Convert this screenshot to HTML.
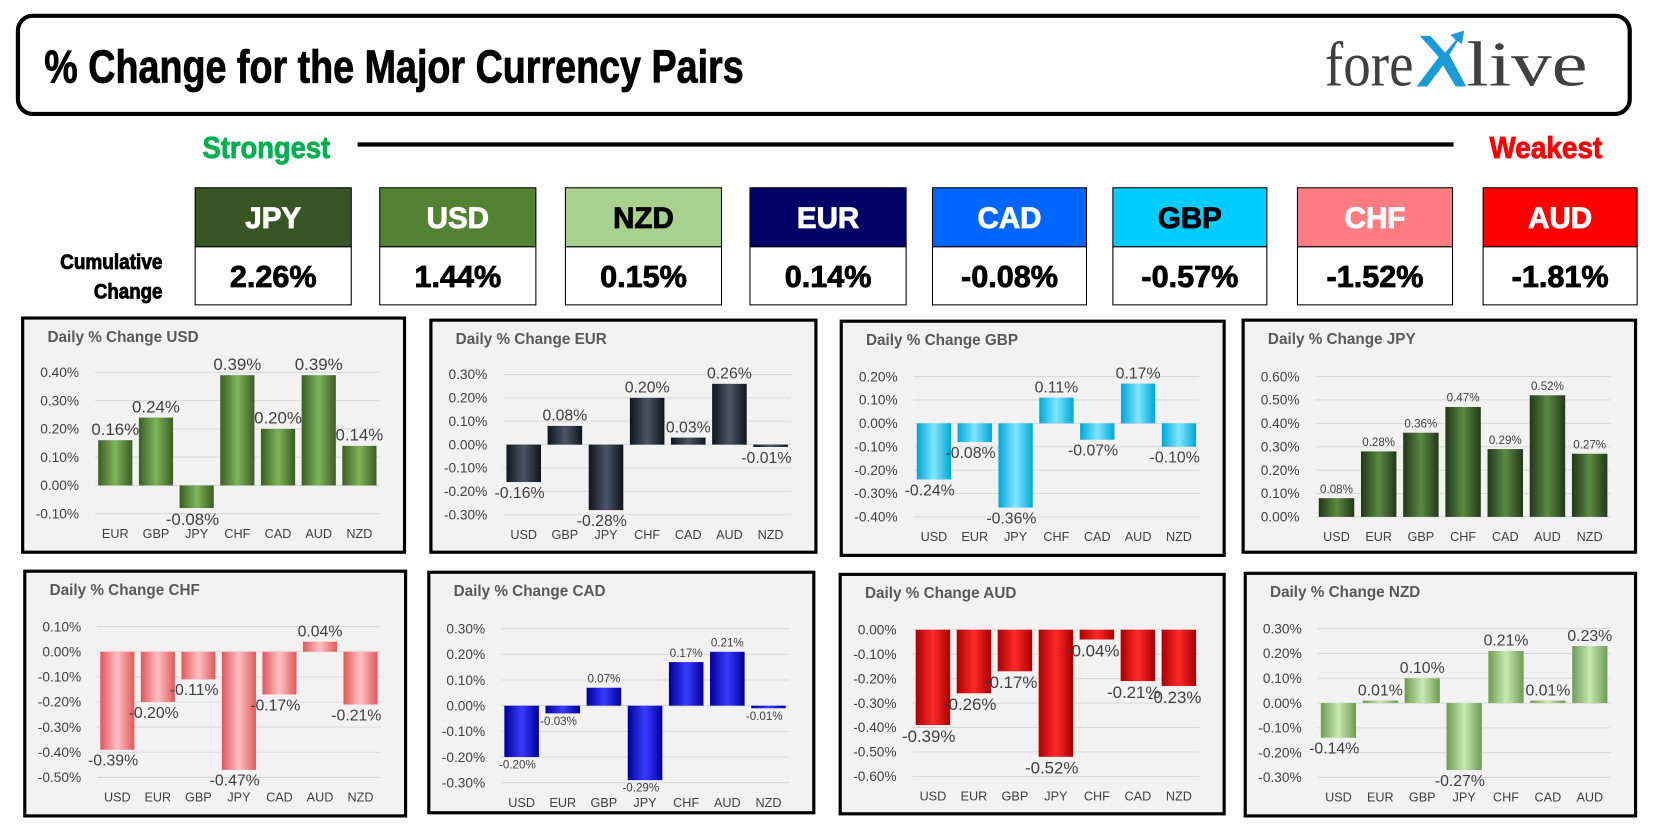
<!DOCTYPE html>
<html><head><meta charset="utf-8">
<style>
html,body{margin:0;padding:0;background:#fff;width:1654px;height:833px;overflow:hidden}
#root{width:1568px;height:790px;transform:scale(1.05485);transform-origin:0 0;position:relative}
svg text{font-family:"Liberation Sans",sans-serif}
svg text.imp{font-family:"Liberation Sans Narrow","Liberation Sans",sans-serif;font-weight:bold;stroke:currentColor;stroke-width:0.8}
svg text.serif{font-family:"Liberation Serif",serif}
</style></head><body>
<div id="root">
<svg id="main" width="1568" height="790" viewBox="0 0 1568 790" xmlns="http://www.w3.org/2000/svg">
<g>
<rect x="17" y="15" width="1528" height="93" rx="14" fill="#fff" stroke="#000" stroke-width="4"/>
<text class="imp" x="42" y="78" font-size="44" textLength="663" lengthAdjust="spacingAndGlyphs" fill="#000" color="#000">% Change for the Major Currency Pairs</text>
<g>
<text class="serif" x="1256" y="81" font-size="60" fill="#404040" textLength="84" lengthAdjust="spacingAndGlyphs">fore</text>
<path d="M1343 82 L1364 54 L1346 34 L1356 34 L1370 50 L1380 38 L1375 33 L1388 29 L1386 42 L1382 39 L1374 52 L1390 82 L1380 82 L1368 62 L1353 82 Z" fill="#1a9ad6"/>
<text class="serif" x="1390" y="81" font-size="60" fill="#404040" textLength="115" lengthAdjust="spacingAndGlyphs">live</text>
</g>
</g>
<text class="imp" x="192" y="150" font-size="29" fill="#00b050" color="#00b050" textLength="121" lengthAdjust="spacingAndGlyphs">Strongest</text>
<line x1="339" y1="137" x2="1378" y2="137" stroke="#000" stroke-width="4"/>
<text class="imp" x="1412" y="150" font-size="29" fill="#ff0000" color="#ff0000" textLength="107" lengthAdjust="spacingAndGlyphs">Weakest</text>
<text class="imp" x="154" y="255" font-size="20" text-anchor="end" fill="#000" color="#000" textLength="97" lengthAdjust="spacingAndGlyphs">Cumulative</text>
<text class="imp" x="154" y="283" font-size="20" text-anchor="end" fill="#000" color="#000" textLength="65" lengthAdjust="spacingAndGlyphs">Change</text>
<g id="boxes"></g>
<g id="charts"></g>
</svg>
</div>
<script>
// cumulative ranking
const rankCurrencies=["JPY","USD","NZD","EUR","CAD","GBP","CHF","AUD"];
const rankValues=["2.26%","1.44%","0.15%","0.14%","-0.08%","-0.57%","-1.52%","-1.81%"];

// daily charts data
const usdCats=["EUR","GBP","JPY","CHF","CAD","AUD","NZD"];
const usdVals=[0.16,0.24,-0.08,0.39,0.20,0.39,0.14];
const usdTicks=[0.4,0.3,0.2,0.1,0,-0.1];
const eurCats=["USD","GBP","JPY","CHF","CAD","AUD","NZD"];
const eurVals=[-0.16,0.08,-0.28,0.20,0.03,0.26,-0.01];
const eurTicks=[0.3,0.2,0.1,0,-0.1,-0.2,-0.3];
const gbpCats=["USD","EUR","JPY","CHF","CAD","AUD","NZD"];
const gbpVals=[-0.24,-0.08,-0.36,0.11,-0.07,0.17,-0.10];
const gbpTicks=[0.2,0.1,0,-0.1,-0.2,-0.3,-0.4];
const jpyCats=["USD","EUR","GBP","CHF","CAD","AUD","NZD"];
const jpyVals=[0.08,0.28,0.36,0.47,0.29,0.52,0.27];
const jpyTicks=[0.6,0.5,0.4,0.3,0.2,0.1,0];
const chfCats=["USD","EUR","GBP","JPY","CAD","AUD","NZD"];
const chfVals=[-0.39,-0.20,-0.11,-0.47,-0.17,0.04,-0.21];
const chfTicks=[0.1,0,-0.1,-0.2,-0.3,-0.4,-0.5];
const cadCats=["USD","EUR","GBP","JPY","CHF","AUD","NZD"];
const cadVals=[-0.20,-0.03,0.07,-0.29,0.17,0.21,-0.01];
const cadTicks=[0.3,0.2,0.1,0,-0.1,-0.2,-0.3];
const audCats=["USD","EUR","GBP","JPY","CHF","CAD","NZD"];
const audVals=[-0.39,-0.26,-0.17,-0.52,-0.04,-0.21,-0.23];
const audTicks=[0,-0.1,-0.2,-0.3,-0.4,-0.5,-0.6];
const nzdCats=["USD","EUR","GBP","JPY","CHF","CAD","AUD"];
const nzdVals=[-0.14,0.01,0.10,-0.27,0.21,0.01,0.23];
const nzdTicks=[0.3,0.2,0.1,0,-0.1,-0.2,-0.3];

const NS="http://www.w3.org/2000/svg";
function mk(tag,attrs,parent){const e=document.createElementNS(NS,tag);for(const k in attrs)e.setAttribute(k,attrs[k]);if(parent)parent.appendChild(e);return e;}

// ranking boxes
const boxX=[185,360,536,711,884,1055,1230,1406];
const boxW=[148,148,148,148,146,146,147,146];
const boxFill=["#375623","#548235","#a9d18e","#000066","#0066ff","#00ccff","#ff7c80","#ff0000"];
const boxText=["#fff","#fff","#000","#fff","#fff","#000","#fff","#fff"];
const bg=document.getElementById('boxes');
rankCurrencies.forEach((c,i)=>{
  const g=mk('g',{},bg);
  
  
  mk('rect',{x:boxX[i],y:178,width:boxW[i],height:56,fill:boxFill[i],stroke:'#000','stroke-width':1},g);
  mk('rect',{x:boxX[i],y:234,width:boxW[i],height:55,fill:'#fff',stroke:'#000','stroke-width':1},g);
  const t=mk('text',{x:boxX[i]+boxW[i]/2,y:216,'text-anchor':'middle','font-size':28,fill:boxText[i],color:boxText[i],class:'imp'},g);
  t.textContent=c;
  const v=mk('text',{x:boxX[i]+boxW[i]/2,y:272,'text-anchor':'middle','font-size':29,fill:'#000',color:'#000',class:'imp'},g);
  v.textContent=rankValues[i];
});

// chart panels
const panels=[
 {id:'usd',cats:usdCats,vals:usdVals,ticks:usdTicks,x:20,y:300,w:365,h:225,top:53,bot:187,c:['#3b5e24','#7fb45a'],fs:16},
 {id:'eur',cats:eurCats,vals:eurVals,ticks:eurTicks,x:407,y:302,w:368,h:223,top:53,bot:186,c:['#10151c','#4a5566'],fs:15},
 {id:'gbp',cats:gbpCats,vals:gbpVals,ticks:gbpTicks,x:796,y:303,w:366,h:225,top:54,bot:187,c:['#00a6d6','#7fe6ff'],fs:15},
 {id:'jpy',cats:jpyCats,vals:jpyVals,ticks:jpyTicks,x:1177,y:302,w:375,h:223,top:55,bot:188,c:['#22371a','#5b8a40'],fs:11},
 {id:'chf',cats:chfCats,vals:chfVals,ticks:chfTicks,x:22,y:540,w:364,h:235,top:54,bot:197,c:['#e0585c','#ffc0c2'],fs:15},
 {id:'cad',cats:cadCats,vals:cadVals,ticks:cadTicks,x:405,y:541,w:368,h:231,top:55,bot:201,c:['#00009a','#3a3aff'],fs:11},
 {id:'aud',cats:audCats,vals:audVals,ticks:audTicks,x:795,y:543,w:367,h:230,top:54,bot:193,c:['#a80000','#ff2a2a'],fs:16},
 {id:'nzd',cats:nzdCats,vals:nzdVals,ticks:nzdTicks,x:1179,y:542,w:373,h:233,top:54,bot:195,c:['#6f9a55','#c8eab0'],fs:15}
];
const defs=mk('defs',{},document.getElementById('main'));
const cg=document.getElementById('charts');
panels.forEach(p=>{
  const gr=mk('linearGradient',{id:'g'+p.id,x1:0,x2:1,y1:0,y2:0},defs);
  mk('stop',{offset:'0','stop-color':p.c[0]},gr);
  mk('stop',{offset:'0.5','stop-color':p.c[1]},gr);
  mk('stop',{offset:'1','stop-color':p.c[0]},gr);
  const g=mk('g',{transform:`translate(${p.x},${p.y})`},cg);
  
  
  mk('rect',{x:1.5,y:1.5,width:p.w-3,height:p.h-3,fill:'#f2f2f2',stroke:'#000','stroke-width':3},g);
  const title=mk('text',{x:25,y:24,'font-size':14.5,'font-weight':'bold',fill:'#595959'},g);
  
  
  title.textContent='Daily % Change '+p.id.toUpperCase();
  const tmax=Math.max(...p.ticks),tmin=Math.min(...p.ticks);
  const yS=v=>p.top+(tmax-v)/(tmax-tmin)*(p.bot-p.top);
  const x0=70,x1=p.w-25,band=(x1-x0)/p.cats.length;
  const xS=i=>x0+band*(i+0.5);
  p.ticks.forEach(t=>{
    const y=yS(t);
    const gl=mk('line',{x1:x0,x2:x1,y1:y,y2:y,stroke:'#d9d9d9','stroke-width':1},g);
    
    
    const tl=mk('text',{x:x0-15,y:y+4.5,'text-anchor':'end','font-size':13,fill:'#404040'},g);
    
    
    tl.textContent=t.toFixed(2)+'%';
  });
  p.cats.forEach((c,i)=>{
    const v=p.vals[i],cx=xS(i),bw=band*0.84;
    const y0=yS(0),yv=yS(v);
    const r=mk('rect',{x:cx-bw/2,y:Math.min(y0,yv),width:bw,height:Math.max(1.5,Math.abs(yv-y0)),fill:`url(#g${p.id})`},g);
    
    
    const lab=mk('text',{x:v>=0?cx:cx-4,y:v>=0?yv-5:yv+p.fs,'text-anchor':'middle','font-size':p.fs,fill:'#404040'},g);
    
    
    lab.textContent=v.toFixed(2)+'%';
    const cl=mk('text',{x:cx,y:p.bot+23,'text-anchor':'middle','font-size':12,fill:'#404040'},g);
    
    
    cl.textContent=c;
  });
});
</script>
</body></html>
